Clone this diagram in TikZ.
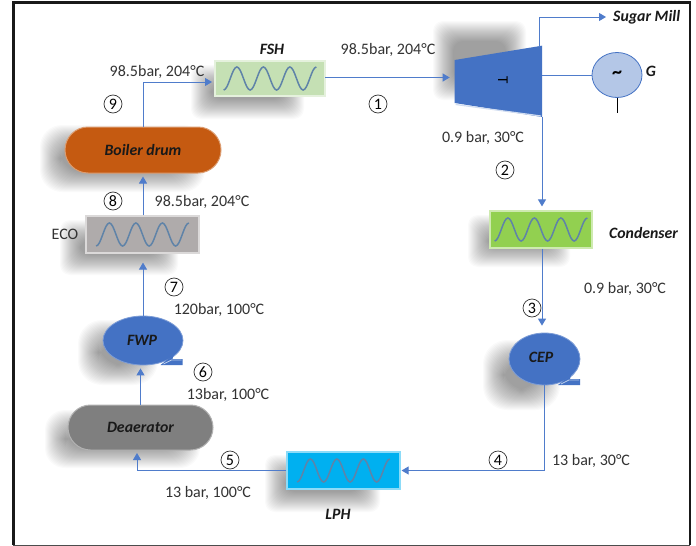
\documentclass[tikz,border=0pt]{standalone}
\usepackage{fontspec}
\setmainfont{Carlito}
\usepackage{tikz}
\usetikzlibrary{arrows.meta}
\usetikzlibrary{positioning}
\usetikzlibrary{shapes.geometric}
\usetikzlibrary{shapes.misc}

\definecolor{flowblue}{HTML}{4F7CCB}
\definecolor{pumpblue}{HTML}{4472C4}
\definecolor{coilblue}{HTML}{5F83A8}
\definecolor{fshgreen}{HTML}{C5E0B4}
\definecolor{ecogrey}{HTML}{AFABAB}
\definecolor{condgreen}{HTML}{92D050}
\definecolor{lphblue}{HTML}{00B0F0}
\definecolor{drumorange}{HTML}{C55A11}
\definecolor{deagrey}{HTML}{7F7F7F}

\tikzset{
  flow/.style={draw=flowblue,line width=1pt,-{Triangle[length=7pt,width=8pt]}},
  plainflow/.style={draw=flowblue,line width=1pt},
  hxbox/.style={rectangle,fill=#1,draw=#1!45!white,line width=1.2pt,inner sep=0pt},
  drum/.style={rounded rectangle,fill=#1,draw=#1!60!white,line width=1pt,inner sep=0pt},
  pump/.style={ellipse,fill=pumpblue,draw=pumpblue!70!white,line width=.8pt,inner sep=0pt},
  lbl/.style={inner sep=0pt,anchor=center,yshift=-1pt,font=\fontsize{16}{18}\selectfont,text=black!80},
  tag/.style={inner sep=0pt,font=\fontsize{15.8}{18}\selectfont\bfseries\itshape,text=black!90},
  num/.style={circle,draw=black!80,line width=.7pt,minimum size=18pt,inner sep=0pt,font=\fontsize{16}{17}\selectfont},
  pics/coil/.style={code={
    \draw[coilblue,line width=1.5pt] plot[smooth,domain=-1.75:1.75,samples=57] ({\x*26.5},{11.5*cos(360*(\x+1.75))});
  }},
  pics/tail/.style={code={
    \fill[pumpblue] (-22,0) -- (0,0) -- (0,-6) -- (-10,-6) -- (-9,-10) -- cycle;
    \draw[pumpblue!35!white,line width=.8pt] (-19,-1) -- (-11,-5) -- (-1,-5);
  }}
}
% blurred shadow made of stacked rectangles
\newcommand{\softshadow}[5]{
  \foreach \g in {10,9,...,-10}
    \fill[black,opacity=0.02,rounded corners=#5pt] (#1-\g,#2-\g) rectangle (#3+\g,#4+\g);
}

\begin{document}
\begin{tikzpicture}[x=1pt,y=-1pt]
      \useasboundingbox (0,0) rectangle (696,546);
      \fill[white] (0,0) rectangle (696,546);

      % frame
      \draw[black!70,line width=1pt] (13,545) -- (690,545);
      \draw[black!90,line width=2.5pt] (13.5,545) -- (13.5,2.5) -- (690,2.5) -- (690,545);

      % shadows
      \softshadow{201}{75}{294}{109}{10}
      \softshadow{50}{135}{195}{182}{22}
      \softshadow{70}{230}{168}{265}{10}
      \softshadow{443}{31}{516}{90}{10}
      \softshadow{478}{225}{560}{257}{10}
      \softshadow{493}{350}{550}{400}{24}
      \softshadow{275}{465}{370}{502}{10}
      \softshadow{55}{420}{190}{458}{20}
      \softshadow{88}{330}{148}{375}{24}

      % components
      \node[hxbox=fshgreen,minimum width=110pt,minimum height=35pt] (fsh) at (270,78.5) {};
      \node[hxbox=ecogrey,minimum width=113pt,minimum height=37pt] (eco) at (142.5,234.5) {};
      \node[hxbox=condgreen,minimum width=102pt,minimum height=37pt] (cond) at (541,229.5) {};
      \node[hxbox=lphblue,minimum width=113pt,minimum height=37pt] (lph) at (343.5,470.5) {};
      \pic at (fsh.center) {coil};
      \pic at (eco.center) {coil};
      \pic at (cond.center) {coil};
      \pic at (lph.center) {coil};

      \node[drum=drumorange,minimum width=156pt,minimum height=46pt] (boiler) at (143,150) {};
      \node[drum=deagrey,minimum width=145pt,minimum height=45pt] (dea) at (140.5,427.5) {};
      \node[tag] (boilertag) at (boiler.center) {Boiler drum};
      \node[tag] (deatag) at (dea.center) {Deaerator};

      \node[pump,minimum width=80pt,minimum height=49pt] (fwp) at (143,340.5) {};
      \pic at (182.5,365) {tail};
      \node[tag] (fwptag) at (142,340) {FWP};
      \node[pump,minimum width=71pt,minimum height=52pt] (cep) at (544.5,359) {};
      \pic at (580,385) {tail};
      \node[tag] (ceptag) at (541,357) {CEP};

      % turbine
      \coordinate (tleftup) at (454.7,60);
      \coordinate (trightup) at (542,45.7);
      \coordinate (trightlow) at (542,117);
      \coordinate (tleftlow) at (454.7,103);
      \fill[pumpblue] (tleftup) -- (trightup) -- (trightlow) -- (tleftlow) -- cycle;
      \draw[white!75!pumpblue,line width=1.2pt] (tleftlow) ++(1,1.5) -- (541,116);
      \node[inner sep=0pt,rotate=-90,font=\fontsize{15}{16}\selectfont] (turbT) at (503,80) {T};

      % generator
      \node[ellipse,fill=pumpblue!40!white,draw=pumpblue,line width=.8pt,minimum width=50pt,minimum height=45pt,inner sep=0pt,font=\fontsize{20}{20}\selectfont\bfseries] (gen) at (617,75) {\textasciitilde};
      \node[tag] (gentag) at (651,71) {G};
      \coordinate (genend) at (617,113);
      \coordinate (shaft) at (542,75);
      \draw[black,line width=.7pt] (gen.south) -- (genend);
      \draw[plainflow] (shaft) -- (gen.west);

      % tags
      \node[tag] (fshtag) at (272,49) {FSH};
      \node[tag,anchor=west] (sugar) at (613,17) {Sugar Mill};
      \node[tag,anchor=west] (condtag) at (609,233) {Condenser};
      \node[tag] (lphtag) at (338,514) {LPH};
      \node[lbl] (ecotag) at (65,233) {ECO};

      % flows
      \coordinate (fshin) at (215,82);
      \coordinate (fshout) at (325,77.5);
      \coordinate (tin) at (454.7,77.5);
      \coordinate (tup) at (539,46.5);
      \coordinate (deain) at (137,450);
      \draw[flow,shorten >=3pt] (boiler.north) |- (fshin);
      \draw[flow,shorten >=5pt] (fshout) -- (tin);
      \draw[flow,shorten >=7pt] (tup) |- (sugar.west);
      \draw[flow,shorten >=4pt] (trightlow) -- (trightlow |- cond.north);
      \draw[flow,shorten >=7pt] (trightlow |- cond.south) -- (trightlow |- cep.north);
      \draw[flow,shorten >=1pt] (cep.south) |- (lph.east);
      \draw[flow,shorten >=3pt] (lph.west) -| (deain);
      \draw[flow,shorten >=3pt] (dea.north) -- (dea.north |- fwp.south);
      \draw[flow,shorten >=9pt] (fwp.north) -- (fwp.north |- eco.south);
      \draw[flow,shorten >=3pt] (fwp.north |- eco.north) -- (fwp.north |- boiler.south);

      % states
      \node[lbl] (p9) at (157,71) {98.5bar, 204°C};
      \node[lbl] (p1) at (388,49) {98.5bar, 204°C};
      \node[lbl] (p2) at (483,137) {0.9 bar, 30°C};
      \node[lbl] (p3) at (625,288) {0.9 bar, 30°C};
      \node[lbl] (p4) at (591,460) {13 bar, 30°C};
      \node[lbl] (p5) at (208,492) {13 bar, 100°C};
      \node[lbl] (p6) at (228,394) {13bar, 100°C};
      \node[lbl] (p7) at (219,309) {120bar, 100°C};
      \node[lbl] (p8) at (202,201) {98.5bar, 204°C};

      \node[num] (n1) at (378,104) {1};
      \node[num] (n2) at (505,170) {2};
      \node[num] (n3) at (532,308) {3};
      \node[num] (n4) at (498,460) {4};
      \node[num] (n5) at (230,460) {5};
      \node[num] (n6) at (203,372) {6};
      \node[num] (n7) at (174,287) {7};
      \node[num] (n8) at (113,201) {8};
      \node[num] (n9) at (113,104) {9};
    \end{tikzpicture}
\end{document}
